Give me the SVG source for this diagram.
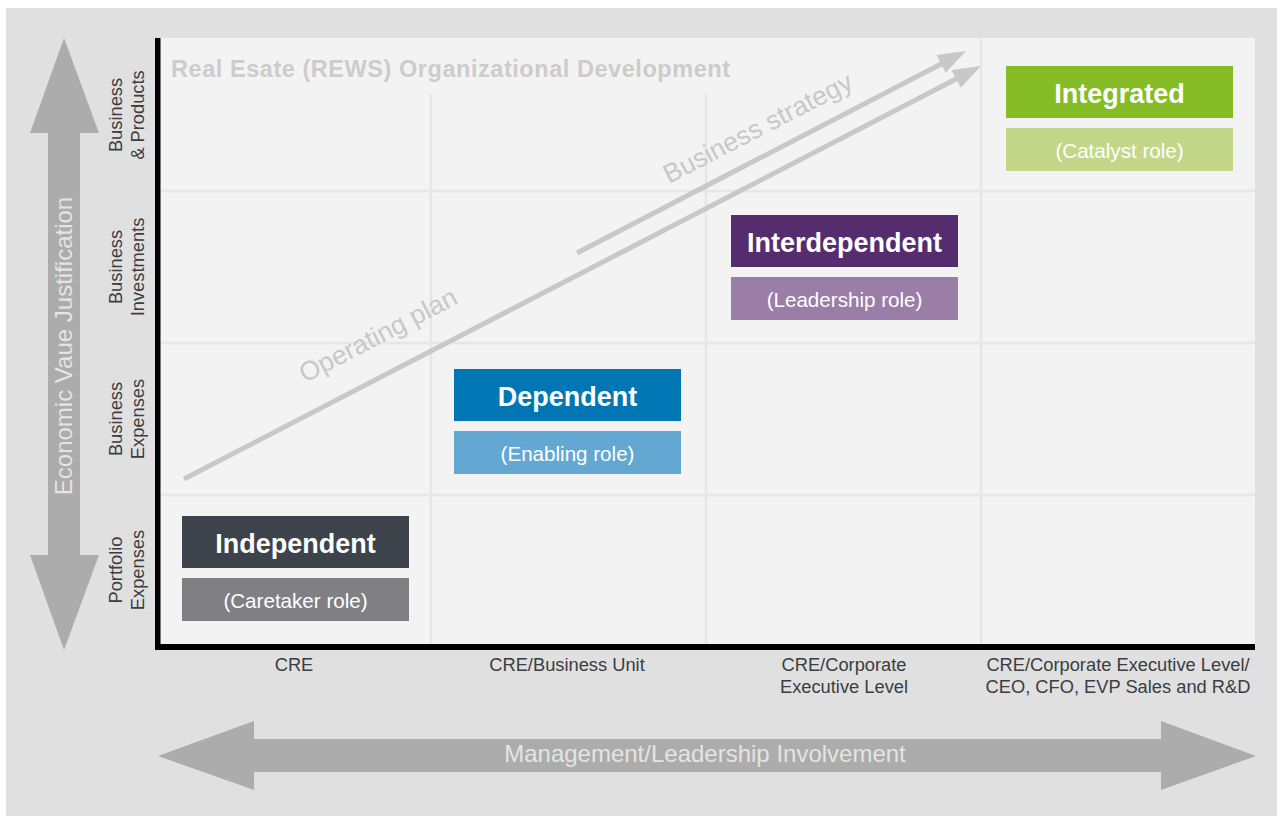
<svg xmlns="http://www.w3.org/2000/svg" width="1283" height="816" viewBox="0 0 1283 816">
<style>
.lbl{font-family:"Liberation Sans",Arial,sans-serif;fill:#3a3d42;font-size:18.3px;text-anchor:middle}
.big{font-family:"Liberation Sans",Arial,sans-serif;font-weight:bold;fill:#ffffff;font-size:27px;text-anchor:middle}
.sub{font-family:"Liberation Sans",Arial,sans-serif;fill:#ffffff;font-size:20.6px;text-anchor:middle}
.grid{stroke:#e6e6e6;stroke-width:2.5}
.arr{stroke:#c8c8c8;stroke-width:5;fill:none}
.ahead{fill:#c8c8c8}
.diag{font-family:"Liberation Sans",Arial,sans-serif;fill:#c8c8c8;font-size:26.5px}
.axarrow{fill:#acacac}
.axtxt{font-family:"Liberation Sans",Arial,sans-serif;fill:#e4e4e4;font-size:24px;text-anchor:middle}
</style>
<rect x="0" y="0" width="1283" height="816" fill="#ffffff"/>
<rect x="6" y="8" width="1271" height="808" fill="#e0e0e0"/>
<rect x="160" y="38" width="1095" height="607" fill="#f3f3f3"/>
<g id="grid">
<line class="grid" x1="431" y1="94" x2="431" y2="644"/>
<line class="grid" x1="706" y1="94" x2="706" y2="644"/>
<line class="grid" x1="981" y1="38" x2="981" y2="644"/>
<line class="grid" x1="161" y1="191" x2="1255" y2="191"/>
<line class="grid" x1="161" y1="343" x2="1255" y2="343"/>
<line class="grid" x1="161" y1="495" x2="1255" y2="495"/>
</g>
<g id="axes">
<rect x="155" y="38" width="5.5" height="612" fill="#000"/>
<rect x="155" y="644" width="1100" height="6" fill="#000"/>
</g>
<text x="171" y="77" font-family="'Liberation Sans',Arial,sans-serif" font-weight="bold" font-size="23.5" fill="#cccccc" textLength="559">Real Esate (REWS) Organizational Development</text>
<g id="connectors">
<line class="arr" x1="184" y1="479" x2="958" y2="78"/>
<polygon class="ahead" points="981,66 960.8,87.8 951.6,70"/>
<line class="arr" x1="577" y1="253" x2="943" y2="63"/>
<polygon class="ahead" points="966,51 945.8,72.8 936.6,55"/>
</g>
<text class="diag" transform="translate(305,383) rotate(-27.4)">Operating plan</text>
<text class="diag" transform="translate(669,184) rotate(-27.4)">Business strategy</text>
<g id="v-axis">
<polygon class="axarrow" points="64,38 99,133 80,133 80,555 99,555 64,650 30,555 48,555 48,133 30,133"/>
<text class="axtxt" font-size="25" transform="translate(72,346) rotate(-90)">Economic Vaue Justification</text>
</g>
<g id="h-axis">
<polygon class="axarrow" points="158,756 254,721 254,739 1161,739 1161,721 1256,756 1161,790 1161,772 254,772 254,790"/>
<text class="axtxt" x="705" y="762">Management/Leadership Involvement</text>
</g>
<g id="row-labels">
<text class="lbl" transform="translate(122,115) rotate(-90)">Business</text>
<text class="lbl" transform="translate(144,115) rotate(-90)">&amp; Products</text>
<text class="lbl" transform="translate(122,267) rotate(-90)">Business</text>
<text class="lbl" transform="translate(144,267) rotate(-90)">Investments</text>
<text class="lbl" transform="translate(122,419) rotate(-90)">Business</text>
<text class="lbl" transform="translate(144,419) rotate(-90)">Expenses</text>
<text class="lbl" transform="translate(122,570) rotate(-90)">Portfolio</text>
<text class="lbl" transform="translate(144,570) rotate(-90)">Expenses</text>
</g>
<g id="col-labels">
<text class="lbl" x="294" y="671">CRE</text>
<text class="lbl" x="567" y="671">CRE/Business Unit</text>
<text class="lbl" x="844" y="671">CRE/Corporate</text>
<text class="lbl" x="844" y="693">Executive Level</text>
<text class="lbl" x="1118" y="671">CRE/Corporate Executive Level/</text>
<text class="lbl" x="1118" y="693">CEO, CFO, EVP Sales and R&amp;D</text>
</g>
<g id="independent">
<rect x="182" y="516" width="227" height="52" fill="#3d434b"/>
<text class="big" x="295.5" y="552.5">Independent</text>
<rect x="182" y="578" width="227" height="43" fill="#807f84"/>
<text class="sub" x="295.5" y="607.5">(Caretaker role)</text>
</g>
<g id="dependent">
<rect x="454" y="369" width="227" height="52" fill="#0077b4"/>
<text class="big" x="567.5" y="405.5">Dependent</text>
<rect x="454" y="431" width="227" height="43" fill="#62a8d3"/>
<text class="sub" x="567.5" y="460.5">(Enabling role)</text>
</g>
<g id="interdependent">
<rect x="731" y="215" width="227" height="52" fill="#552d6e"/>
<text class="big" x="844.5" y="251.5">Interdependent</text>
<rect x="731" y="277" width="227" height="43" fill="#9a7ea8"/>
<text class="sub" x="844.5" y="306.5">(Leadership role)</text>
</g>
<g id="integrated">
<rect x="1006" y="66" width="227" height="52" fill="#86bc25"/>
<text class="big" x="1119.5" y="102.5">Integrated</text>
<rect x="1006" y="128" width="227" height="43" fill="#c2d888"/>
<text class="sub" x="1119.5" y="157.5">(Catalyst role)</text>
</g>
</svg>
